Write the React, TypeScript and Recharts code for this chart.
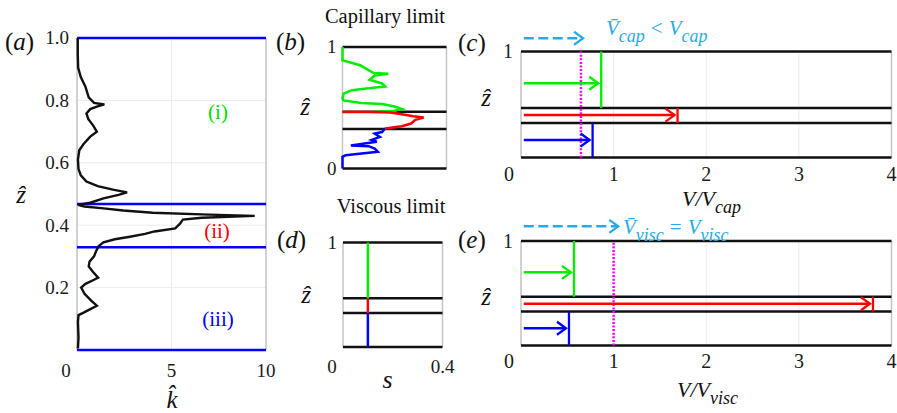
import React from 'react';
import { ScatterChart, Scatter, XAxis, YAxis, CartesianGrid, ReferenceLine } from 'recharts';

const FONT = "'Liberation Serif','Times New Roman',serif";
const W = 897;
const H = 413;

// ---------- data ----------
const kProfile = [
  { z: 0.005, k: 0.05 }, { z: 0.04, k: 0.08 }, { z: 0.09, k: 0.05 }, { z: 0.112, k: 0.08 },
  { z: 0.12, k: 0.35 }, { z: 0.128, k: 0.6 }, { z: 0.142, k: 1.05 }, { z: 0.158, k: 0.75 },
  { z: 0.18, k: 0.4 }, { z: 0.2, k: 0.22 }, { z: 0.212, k: 0.45 }, { z: 0.225, k: 0.9 },
  { z: 0.232, k: 1.12 }, { z: 0.25, k: 0.85 }, { z: 0.268, k: 0.62 }, { z: 0.283, k: 0.66 },
  { z: 0.3, k: 0.9 }, { z: 0.318, k: 1.02 }, { z: 0.333, k: 1.15 }, { z: 0.345, k: 1.4 },
  { z: 0.355, k: 2.0 }, { z: 0.363, k: 2.8 }, { z: 0.372, k: 3.6 }, { z: 0.38, k: 4.1 },
  { z: 0.39, k: 5.2 }, { z: 0.405, k: 5.45 }, { z: 0.418, k: 5.6 }, { z: 0.424, k: 6.6 },
  { z: 0.43, k: 9.4 }, { z: 0.434, k: 7.0 }, { z: 0.44, k: 4.0 }, { z: 0.447, k: 2.45 },
  { z: 0.454, k: 1.4 }, { z: 0.46, k: 0.4 }, { z: 0.465, k: 0.05 }, { z: 0.472, k: 0.7 },
  { z: 0.486, k: 1.4 }, { z: 0.497, k: 2.2 }, { z: 0.505, k: 2.65 }, { z: 0.514, k: 1.9 },
  { z: 0.525, k: 1.1 }, { z: 0.54, k: 0.5 }, { z: 0.56, k: 0.2 }, { z: 0.58, k: 0.08 },
  { z: 0.61, k: 0.05 }, { z: 0.64, k: 0.12 }, { z: 0.66, k: 0.35 }, { z: 0.684, k: 0.7 },
  { z: 0.7, k: 1.05 }, { z: 0.72, k: 0.85 }, { z: 0.74, k: 0.6 }, { z: 0.758, k: 0.5 },
  { z: 0.772, k: 0.7 }, { z: 0.78, k: 1.05 }, { z: 0.787, k: 1.45 }, { z: 0.792, k: 0.9 },
  { z: 0.81, k: 0.62 }, { z: 0.845, k: 0.44 }, { z: 0.875, k: 0.2 }, { z: 0.905, k: 0.06 },
  { z: 0.95, k: 0.04 }, { z: 1.0, k: 0.04 },
];

const capGreen = [
  { z: 1.0, f: 0 }, { z: 0.89, f: 0 }, { z: 0.877, f: 0.06 }, { z: 0.85, f: 0.17 },
  { z: 0.81, f: 0.25 }, { z: 0.785, f: 0.3 }, { z: 0.78, f: 0.44 }, { z: 0.765, f: 0.31 },
  { z: 0.73, f: 0.26 }, { z: 0.7, f: 0.38 }, { z: 0.675, f: 0.41 }, { z: 0.66, f: 0.25 },
  { z: 0.645, f: 0.09 }, { z: 0.616, f: 0.01 }, { z: 0.575, f: 0 }, { z: 0.56, f: 0.01 },
  { z: 0.54, f: 0.18 }, { z: 0.53, f: 0.38 }, { z: 0.51, f: 0.5 }, { z: 0.49, f: 0.57 },
  { z: 0.475, f: 0.5 }, { z: 0.466, f: 0.28 },
];
const capRed = [
  { z: 0.466, f: 0 }, { z: 0.466, f: 0.28 }, { z: 0.46, f: 0.46 }, { z: 0.447, f: 0.57 },
  { z: 0.43, f: 0.68 }, { z: 0.42, f: 0.78 }, { z: 0.4, f: 0.7 }, { z: 0.37, f: 0.66 },
  { z: 0.348, f: 0.57 }, { z: 0.33, f: 0.41 },
];
const capBlue = [
  { z: 0.33, f: 0.41 }, { z: 0.3, f: 0.38 }, { z: 0.288, f: 0.31 }, { z: 0.26, f: 0.36 },
  { z: 0.235, f: 0.28 }, { z: 0.22, f: 0.33 }, { z: 0.19, f: 0.08 }, { z: 0.184, f: 0.25 },
  { z: 0.164, f: 0.31 }, { z: 0.137, f: 0.34 }, { z: 0.123, f: 0.185 }, { z: 0.11, f: 0.03 },
  { z: 0.096, f: 0 }, { z: 0, f: 0 },
];

const layerBoundsA = [0, 0.329, 0.468, 1];
const layerBounds = [0, 0.325, 0.467, 1];
// lower, middle, upper layers
const capSpeeds = [0.773, 1.69, 0.866];
const viscSpeeds = [0.518, 3.8, 0.572];
const arrowHeights = [0.165, 0.4, 0.7];
const arrowStart = 0.03;
const capMean = 0.647;
const viscMean = 1.0;
const capMeanArrow = { z: 1.125, end: 0.67 };
const viscMeanArrow = { z: 1.14, end: 1.05 };
const viscousS = 0.1;

const kTicks = [0, 5, 10];
const zTicksA = [0.2, 0.4, 0.6, 0.8, 1.0];
const zTicksB = [0, 1];
const zTicksTop = [1];
const vTicks = [0, 1, 2, 3, 4];
const sTicks = [0, 0.4];

// ---------- styling helpers ----------
const LAYER_COLORS = ['#0000ff', '#ff0000', '#00ee00'];
const CYAN = '#29abe2';
const FRAME = '#c4c4c4';

const margins = (L: number, R: number, T: number, B: number, yW: number, xH: number) => ({
  top: T,
  left: L - yW,
  right: W - R,
  bottom: H - B - xH,
});

const makeTick = (axis: 'x' | 'y', size: number, shift0: number, fmt: (v: number) => string) =>
  (props: any) => {
    const { x, y, payload } = props;
    const v = payload.value;
    if (axis === 'x') {
      return (
        <text x={x + (v === 0 ? shift0 : 0)} y={y} dy="0.71em" textAnchor="middle"
          fontSize={size} fontFamily={FONT} fill="#1a1a1a">{fmt(v)}</text>
      );
    }
    return (
      <text x={x} y={y} dy="0.34em" textAnchor="end" fontSize={size} fontFamily={FONT} fill="#1a1a1a">
        {fmt(v)}
      </text>
    );
  };

const plain = (v: number) => String(v);
const oneDec = (v: number) => v.toFixed(1);

const noDot = () => <g />;

const arrowShape = (color: string, dashed: boolean) => (p: any) => {
  const { x1, y1, x2, y2 } = p;
  const tip = x2 - (dashed ? 0 : 3);
  return (
    <g>
      <line x1={x1} y1={y1} x2={tip} y2={y2} stroke={color} strokeWidth={2.5}
        strokeDasharray={dashed ? '10 4.5' : undefined} />
      <polyline points={`${tip - 9},${y2 - 6.5} ${tip},${y2} ${tip - 9},${y2 + 6.5}`}
        fill="none" stroke={color} strokeWidth={2.3} />
    </g>
  );
};

// ---------- panels ----------
function PanelA() {
  return (
    <ScatterChart width={W} height={H} margin={margins(77, 266, 38, 350, 60, 30)}>
      <CartesianGrid stroke="#ececec" strokeWidth={1} />
      <XAxis type="number" dataKey="k" domain={[0, 10]} ticks={kTicks} interval={0} height={30}
        axisLine={false} tickLine={false} tickSize={0} tickMargin={14}
        tick={makeTick('x', 19, -11, plain)} />
      <YAxis type="number" dataKey="z" domain={[0, 1]} ticks={zTicksA} interval={0} width={60}
        axisLine={false} tickLine={false} tickSize={0} tickMargin={8}
        tick={makeTick('y', 19, 0, oneDec)} />
      <ReferenceLine x={0} stroke={FRAME} strokeWidth={1.5} />
      <ReferenceLine x={10} stroke={FRAME} strokeWidth={1.5} />
      {layerBoundsA.map((b) => (
        <ReferenceLine key={b} y={b} stroke="#0000ff" strokeWidth={2.5} />
      ))}
      <Scatter data={kProfile} isAnimationActive={false} shape={noDot}
        line={{ stroke: '#111', strokeWidth: 2.4 }} lineType="joint" />
    </ScatterChart>
  );
}

function PanelB() {
  return (
    <ScatterChart width={W} height={H} margin={margins(342.5, 446.5, 47, 168.5, 40, 0)}>
      <XAxis type="number" dataKey="f" domain={[0, 1]} hide />
      <YAxis type="number" dataKey="z" domain={[0, 1]} ticks={zTicksB} interval={0} width={40}
        axisLine={false} tickLine={false} tickSize={0} tickMargin={6}
        tick={makeTick('y', 19, 0, plain)} />
      <ReferenceLine x={0} stroke={FRAME} strokeWidth={1.5} />
      <ReferenceLine x={1} stroke={FRAME} strokeWidth={1.5} />
      {layerBounds.map((b) => (
        <ReferenceLine key={b} y={b} stroke="#111" strokeWidth={2.5} />
      ))}
      <Scatter data={capGreen} isAnimationActive={false} shape={noDot}
        line={{ stroke: LAYER_COLORS[2], strokeWidth: 2.5 }} lineType="joint" />
      <Scatter data={capBlue} isAnimationActive={false} shape={noDot}
        line={{ stroke: LAYER_COLORS[0], strokeWidth: 2.5 }} lineType="joint" />
      <Scatter data={capRed} isAnimationActive={false} shape={noDot}
        line={{ stroke: LAYER_COLORS[1], strokeWidth: 2.5 }} lineType="joint" />
    </ScatterChart>
  );
}

function PanelD() {
  const segs = [0, 1, 2].map((i) => [
    { s: viscousS, z: layerBounds[i] },
    { s: viscousS, z: layerBounds[i + 1] },
  ]);
  return (
    <ScatterChart width={W} height={H} margin={margins(343, 442.5, 242.5, 347, 40, 30)}>
      <XAxis type="number" dataKey="s" domain={[0, 0.4]} ticks={sTicks} interval={0} height={30}
        axisLine={false} tickLine={false} tickSize={0} tickMargin={13}
        tick={makeTick('x', 19, -11, plain)} />
      <YAxis type="number" dataKey="z" domain={[0, 1]} ticks={zTicksTop} interval={0} width={40}
        axisLine={false} tickLine={false} tickSize={0} tickMargin={6}
        tick={makeTick('y', 19, 0, plain)} />
      <ReferenceLine x={0} stroke={FRAME} strokeWidth={1.5} />
      <ReferenceLine x={0.4} stroke={FRAME} strokeWidth={1.5} />
      {layerBounds.map((b) => (
        <ReferenceLine key={b} y={b} stroke="#111" strokeWidth={2.5} />
      ))}
      {segs.map((d, i) => (
        <Scatter key={i} data={d} isAnimationActive={false} shape={noDot}
          line={{ stroke: LAYER_COLORS[i], strokeWidth: 2.5 }} lineType="joint" />
      ))}
    </ScatterChart>
  );
}

function SpeedPanel({ top, bottom, speeds, mean, meanArrow, tickMargin }:
  { top: number; bottom: number; speeds: number[]; mean: number; meanArrow: { z: number; end: number }; tickMargin: number }) {
  const segs = [0, 1, 2].map((i) => [
    { v: speeds[i], z: layerBounds[i] },
    { v: speeds[i], z: layerBounds[i + 1] },
  ]);
  return (
    <ScatterChart width={W} height={H} margin={margins(521, 891.5, top, bottom, 40, 30)}>
      <CartesianGrid stroke="#ebebeb" horizontal={false} />
      <XAxis type="number" dataKey="v" domain={[0, 4]} ticks={vTicks} interval={0} height={30}
        axisLine={false} tickLine={false} tickSize={0} tickMargin={tickMargin}
        tick={makeTick('x', 20, -12, plain)} />
      <YAxis type="number" dataKey="z" domain={[0, 1]} ticks={zTicksTop} interval={0} width={40}
        axisLine={false} tickLine={false} tickSize={0} tickMargin={8}
        tick={makeTick('y', 20, 0, plain)} />
      <ReferenceLine x={0} stroke={FRAME} strokeWidth={1.5} />
      <ReferenceLine x={4} stroke={FRAME} strokeWidth={1.5} />
      {layerBounds.map((b) => (
        <ReferenceLine key={b} y={b} stroke="#111" strokeWidth={2.5} />
      ))}
      <ReferenceLine x={mean} stroke="#ff00ff" strokeWidth={2.5} strokeDasharray="2 1.6" />
      {segs.map((d, i) => (
        <Scatter key={i} data={d} isAnimationActive={false} shape={noDot}
          line={{ stroke: LAYER_COLORS[i], strokeWidth: 2.3 }} lineType="joint" />
      ))}
      {arrowHeights.map((z, i) => (
        <ReferenceLine key={'a' + i}
          segment={[{ x: arrowStart, y: z }, { x: speeds[i], y: z }]}
          shape={arrowShape(LAYER_COLORS[i], false)} />
      ))}
      <ReferenceLine ifOverflow="visible"
        segment={[{ x: arrowStart, y: meanArrow.z }, { x: meanArrow.end, y: meanArrow.z }]}
        shape={arrowShape(CYAN, true)} />
    </ScatterChart>
  );
}

// ---------- text overlay ----------
const T = (props: any) => <text fontFamily={FONT} fill="#111" {...props} />;

function PanelTag({ x, y, letter }: { x: number; y: number; letter: string }) {
  return (
    <T x={x} y={y} fontSize={25}>
      (<tspan fontStyle="italic">{letter}</tspan>)
    </T>
  );
}

function Overlay() {
  const zhat = 'ẑ';
  return (
    <svg width={W} height={H} style={{ position: 'absolute', left: 0, top: 0 }}>
      <PanelTag x={5} y={50} letter="a" />
      <PanelTag x={276} y={50} letter="b" />
      <PanelTag x={458} y={51} letter="c" />
      <PanelTag x={277} y={248} letter="d" />
      <PanelTag x={458} y={248} letter="e" />

      <T x={385} y={23} fontSize={20.5} textAnchor="middle">Capillary limit</T>
      <T x={391} y={213} fontSize={20.5} textAnchor="middle">Viscous limit</T>

      <T x={21} y={203} fontSize={25} fontStyle="italic" textAnchor="middle">{zhat}</T>
      <T x={305} y={115} fontSize={25} fontStyle="italic" textAnchor="middle">{zhat}</T>
      <T x={486} y={106} fontSize={25} fontStyle="italic" textAnchor="middle">{zhat}</T>
      <T x={306} y={303} fontSize={25} fontStyle="italic" textAnchor="middle">{zhat}</T>
      <T x={486} y={305} fontSize={25} fontStyle="italic" textAnchor="middle">{zhat}</T>

      <T x={172} y={408} fontSize={25} fontStyle="italic" textAnchor="middle">{'k\u0302'}</T>
      <T x={387.5} y={388} fontSize={26} fontStyle="italic" textAnchor="middle">s</T>

      <T x={218} y={119} fontSize={21} textAnchor="middle" fill="#00dd00">(i)</T>
      <T x={217} y={238} fontSize={21} textAnchor="middle" fill="#ff0000">(ii)</T>
      <T x={218} y={326} fontSize={21} textAnchor="middle" fill="#0000ff">(iii)</T>

      <T x={682} y={206} fontSize={22} fontStyle="italic">
        V/V<tspan fontSize={18} dy={7}>cap</tspan>
      </T>
      <T x={677} y={397} fontSize={22} fontStyle="italic">
        V/V<tspan fontSize={18} dy={7}>visc</tspan>
      </T>

      <T x={606} y={35} fontSize={21} fontStyle="italic" fill={CYAN}>
        {'V\u0304'}<tspan fontSize={18} dy={7}>cap</tspan>
        <tspan dy={-7} dx={6} fontStyle="normal">&lt;</tspan>
        <tspan dx={6}>V</tspan><tspan fontSize={18} dy={7}>cap</tspan>
      </T>
      <T x={623} y={234} fontSize={21} fontStyle="italic" fill={CYAN}>
        {'V\u0304'}<tspan fontSize={18} dy={7}>visc</tspan>
        <tspan dy={-7} dx={6} fontStyle="normal">=</tspan>
        <tspan dx={6}>V</tspan><tspan fontSize={18} dy={7}>visc</tspan>
      </T>
    </svg>
  );
}

export default function App() {
  const abs = { position: 'absolute' as const, left: 0, top: 0 };
  return (
    <div style={{ position: 'absolute', left: 0, top: 0, width: W, height: H, background: '#fff' }}>
      <div style={abs}><PanelA /></div>
      <div style={abs}><PanelB /></div>
      <div style={abs}><PanelD /></div>
      <div style={abs}>
        <SpeedPanel top={51.5} bottom={157.5} speeds={capSpeeds} mean={capMean} meanArrow={capMeanArrow} tickMargin={9} />
      </div>
      <div style={abs}>
        <SpeedPanel top={241} bottom={345.5} speeds={viscSpeeds} mean={viscMean} meanArrow={viscMeanArrow} tickMargin={8.5} />
      </div>
      <Overlay />
    </div>
  );
}
